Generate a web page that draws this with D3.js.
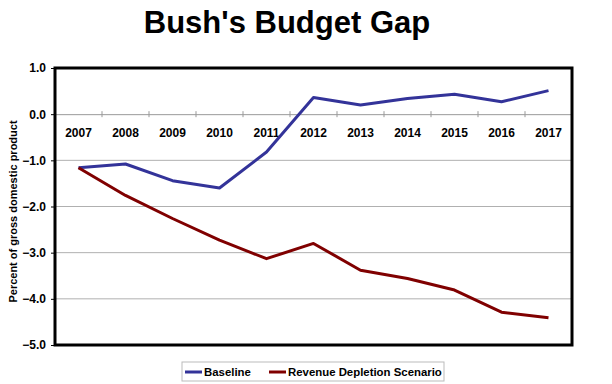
<!DOCTYPE html>
<html>
<head>
<meta charset="utf-8">
<script src="https://cdn.jsdelivr.net/npm/d3@7"></script>
<style>
  body { margin: 0; background: #fff; }
  text { font-family: Arial, "Liberation Sans", sans-serif; }
</style>
</head>
<body>
<div id="chart-area"></div>
<script>
// Bush's Budget Gap
const years = ["2007","2008","2009","2010","2011","2012","2013","2014","2015","2016","2017"]
const baseline = [-1.16, -1.08, -1.44, -1.6, -0.82, 0.36, 0.2, 0.34, 0.43, 0.27, 0.51]
const depletion = [-1.16, -1.76, -2.26, -2.73, -3.13, -2.8, -3.38, -3.56, -3.81, -4.29, -4.41]
const yTicks = [1, 0, -1, -2, -3, -4, -5]

const seriesNames = ["Baseline", "Revenue Depletion Scenario"]
const seriesColors = ["#333399", "#800000"]

const margin = { left: 55, right: 40, top: 68, bottom: 39 }
const width = 612 - margin.left - margin.right,
    height = 384 - margin.top - margin.bottom

const svg = d3.select("#chart-area")
  .append("svg")
    .attr("width", 612)
    .attr("height", 384)

// Title
svg.append("text")
  .attr("x", 287)
  .attr("y", 33)
  .attr("text-anchor", "middle")
  .attr("font-size", "31px")
  .attr("font-weight", "bold")
  .text("Bush's Budget Gap")

const g = svg.append("g")
  .attr("transform", `translate(${margin.left}, ${margin.top})`)

const x = d3.scaleBand()
  .domain(years)
  .range([0, width])

const y = d3.scaleLinear()
  .domain([-5, 1])
  .range([height, 0])

// Gridlines
g.selectAll(".grid")
  .data(yTicks.filter(d => d !== 1 && d !== -5 && d !== 0))
  .enter().append("line")
    .attr("x1", 0)
    .attr("x2", width)
    .attr("y1", d => y(d))
    .attr("y2", d => y(d))
    .attr("stroke", "#b0b0b0")
    .attr("stroke-width", 1)

// Y axis labels
const yAxisCall = d3.axisLeft(y)
  .tickValues(yTicks)
  .tickFormat(d3.format(".1f"))
  .tickSize(4)
  .tickPadding(5)

const yAxisGroup = g.append("g").call(yAxisCall)
yAxisGroup.select(".domain").remove()
yAxisGroup.selectAll("line").attr("stroke", "#000")
yAxisGroup.selectAll("text")
  .attr("font-size", "12px")
  .attr("font-weight", "bold")
  .attr("fill", "#000")
  .style("font-family", "Arial, 'Liberation Sans', sans-serif")

// Zero axis with category ticks
const xAxisCall = d3.axisBottom(x)
  .tickSizeInner(0)
  .tickSizeOuter(0)
  .tickPadding(14)

const xAxisGroup = g.append("g")
  .attr("transform", `translate(0, ${y(0)})`)
  .call(xAxisCall)
xAxisGroup.select(".domain").attr("stroke", "#999")
xAxisGroup.selectAll("text")
  .attr("font-size", "12px")
  .attr("font-weight", "bold")
  .attr("fill", "#000")
  .style("font-family", "Arial, 'Liberation Sans', sans-serif")

g.selectAll(".xtick")
  .data(years.slice(1))
  .enter().append("line")
    .attr("x1", d => x(d))
    .attr("x2", d => x(d))
    .attr("y1", y(0) - 3)
    .attr("y2", y(0) + 3)
    .attr("stroke", "#999")

// Lines
const line = d3.line()
  .x((d, i) => x(years[i]) + x.bandwidth() / 2)
  .y(d => y(d))

;[baseline, depletion].forEach((series, i) => {
  g.append("path")
    .datum(series)
    .attr("fill", "none")
    .attr("stroke", seriesColors[i])
    .attr("stroke-width", 3)
    .attr("stroke-linejoin", "round")
    .attr("d", line)
})

// Plot border
g.append("rect")
  .attr("x", 0)
  .attr("y", 0)
  .attr("width", width)
  .attr("height", height)
  .attr("fill", "none")
  .attr("stroke", "#000")
  .attr("stroke-width", 3)

// Y label
svg.append("text")
  .attr("transform", "rotate(-90)")
  .attr("x", -(margin.top + height / 2 + 5))
  .attr("y", 17)
  .attr("text-anchor", "middle")
  .attr("font-size", "11px")
  .attr("font-weight", "bold")
  .text("Percent of gross domestic product")

// Legend
const legend = svg.append("g")
  .attr("transform", "translate(182, 362)")

legend.append("rect")
  .attr("width", 262)
  .attr("height", 19)
  .attr("fill", "#fff")
  .attr("stroke", "#bbb")

const legendX = [3, 87]
seriesNames.forEach((name, i) => {
  const row = legend.append("g")
    .attr("transform", `translate(${legendX[i]}, 10)`)
  row.append("line")
    .attr("x1", 0)
    .attr("x2", 17)
    .attr("stroke", seriesColors[i])
    .attr("stroke-width", 3)
  row.append("text")
    .attr("x", 19)
    .attr("y", 4)
    .attr("font-size", "11.4px")
    .attr("font-weight", "bold")
    .text(name)
})
</script>
</body>
</html>
